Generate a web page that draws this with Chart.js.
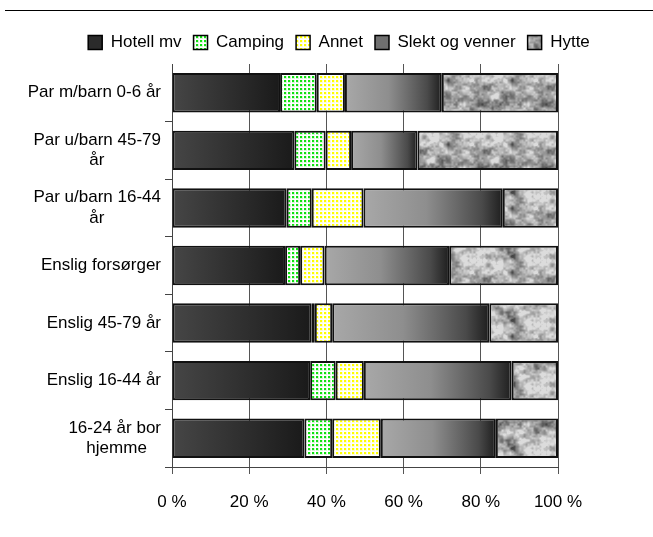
<!DOCTYPE html>
<html>
<head>
<meta charset="utf-8">
<script src="https://cdn.jsdelivr.net/npm/chart.js@4.4.1/dist/chart.umd.min.js"></script>
<style>
  html, body { margin: 0; background: #fff; }
  #wrap { position: relative; width: 653px; height: 537px; }
  #rule { position: absolute; left: 5px; right: 0; top: 10px; border-top: 1px solid #000; }
  #myChart { position: absolute; left: 0; top: 0; }
</style>
</head>
<body>
<div id="wrap">
  <div id="rule"></div>
  <canvas id="myChart" width="653" height="537"></canvas>
</div>
<script>
// categories (top to bottom)
const categories = [
  'Par m/barn 0-6 år',
  ['Par u/barn 45-79', 'år'],
  ['Par u/barn 16-44', 'år'],
  'Enslig forsørger',
  'Enslig 45-79 år',
  'Enslig 16-44 år',
  ['16-24 år bor', 'hjemme']
];
const seriesNames = ['Hotell mv', 'Camping', 'Annet', 'Slekt og venner', 'Hytte'];

// share in percent
const hotell  = [28.0, 31.7, 29.7, 29.3, 36.2, 35.8, 34.3];
const camping = [ 9.5,  8.1,  6.5,  3.9,  0.8,  6.6,  7.2];
const annet   = [ 7.3,  6.6, 13.4,  6.3,  4.5,  7.3, 12.6];
const slekt   = [25.1, 17.2, 36.1, 32.3, 40.7, 38.3, 29.8];
const hytte   = [30.1, 36.4, 14.3, 28.2, 17.8, 12.0, 16.1];
const series = [hotell, camping, annet, slekt, hytte];

const xTicks = [0, 20, 40, 60, 80, 100];

const FONT = '"Liberation Sans", Arial, sans-serif';
Chart.defaults.font.family = FONT;
Chart.defaults.font.size = 17;
Chart.defaults.color = '#000';

// --- fills -------------------------------------------------------------
function dotPattern(dot, light) {
  const c = document.createElement('canvas');
  c.width = 4; c.height = 4;
  const g = c.getContext('2d');
  g.fillStyle = light;
  g.fillRect(0, 0, 4, 4);
  g.fillStyle = '#fff';
  g.fillRect(3, 0, 1, 4); g.fillRect(0, 3, 4, 1);
  g.fillStyle = dot;
  g.fillRect(0, 0, 2, 2);
  return g.createPattern(c, 'repeat');
}

function granitePattern() {
  const N = 64;
  const c = document.createElement('canvas');
  c.width = N; c.height = N;
  const g = c.getContext('2d');
  const img = g.createImageData(N, N);
  const h = (i, j) => { const s = Math.sin(i * 127.1 + j * 311.7) * 43758.5453; return s - Math.floor(s); };
  const noise = (x, y, cell) => {
    const P = N / cell;
    const gx = x / cell, gy = y / cell;
    const i = Math.floor(gx), j = Math.floor(gy);
    const fx = gx - i, fy = gy - j;
    const sx = fx * fx * (3 - 2 * fx), sy = fy * fy * (3 - 2 * fy);
    const a = h(i % P, j % P), b = h((i + 1) % P, j % P);
    const cc = h(i % P, (j + 1) % P), d = h((i + 1) % P, (j + 1) % P);
    return a + (b - a) * sx + (cc - a) * sy + (a - b - cc + d) * sx * sy;
  };
  for (let y = 0; y < N; y++) {
    for (let x = 0; x < N; x++) {
      const v = 0.5 * noise(x, y, 8) + 0.3 * noise(x, y, 4) + 0.2 * noise(x, y, 2);
      const t = Math.min(1, Math.max(0, (v - 0.1) / 0.6));
      const gray = Math.round(70 + 150 * t);
      const k = (y * N + x) * 4;
      img.data[k] = gray; img.data[k + 1] = gray; img.data[k + 2] = gray; img.data[k + 3] = 255;
    }
  }
  g.putImageData(img, 0, 0);
  return g.createPattern(c, 'repeat');
}

function gradFill(stops, fallback) {
  return c => {
    const chart = c.chart, x = chart.scales.x;
    if (c.type !== 'data' || !chart.chartArea || !x) return fallback;
    const i = c.dataIndex, d = c.datasetIndex;
    let start = 0;
    for (let k = 0; k < d; k++) start += series[k][i];
    const x0 = x.getPixelForValue(start), x1 = x.getPixelForValue(start + series[d][i]);
    if (!isFinite(x0) || !isFinite(x1) || x1 <= x0) return fallback;
    const g = chart.ctx.createLinearGradient(x0, 0, x1, 0);
    stops.forEach(s => g.addColorStop(s[0], s[1]));
    return g;
  };
}

const campingFill = dotPattern('#10e010', '#d4f8d4');
const annetFill = dotPattern('#ffff00', '#ffffcc');
const hytteFill = granitePattern();
const fills = [
  gradFill([[0, '#464646'], [1, '#1a1a1a']], '#2b2b2b'),
  campingFill,
  annetFill,
  gradFill([[0, '#a8a8a8'], [0.45, '#8e8e8e'], [0.85, '#4a4a4a'], [1, '#1e1e1e']], '#707070'),
  hytteFill
];
const legendFills = ['#2b2b2b', campingFill, annetFill, '#707070', hytteFill];

// centre the lines of a wrapped label, labels stay right aligned
const measureCtx = document.createElement('canvas').getContext('2d');
measureCtx.font = '17px ' + FONT;
function centreLines(lines) {
  const w = lines.map(l => measureCtx.measureText(l).width);
  const max = Math.max(...w);
  const sp = measureCtx.measureText('\u00a0').width;
  return lines.map((l, i) => l + '\u00a0'.repeat(Math.round((max - w[i]) / 2 / sp)));
}

// legend: shorter box, and shifted right over the middle of the picture
const legendBox = {
  id: 'legendBox',
  beforeLayout(chart) {
    const lg = chart.legend;
    if (lg && !lg.fitWrapped) {
      const fit = lg.fit;
      lg.fit = function () { fit.call(this); this.height = 42; };
      lg.fitWrapped = true;
    }
  },
  afterLayout(chart) {
    const lg = chart.legend;
    lg.left += 60;
    lg.right += 60;
  }
};

const ctx = document.getElementById('myChart').getContext('2d');
new Chart(ctx, {
  type: 'bar',
  data: {
    labels: categories,
    datasets: series.map((vals, i) => ({
      label: seriesNames[i],
      data: vals,
      backgroundColor: fills[i],
      borderColor: '#111',
      borderWidth: 2,
      borderSkipped: false,
      barPercentage: 0.685,
      categoryPercentage: 1
    }))
  },
  options: {
    indexAxis: 'y',
    responsive: false,
    animation: false,
    layout: { padding: { left: 0, right: 95, top: 22, bottom: 0 } },
    plugins: {
      legend: {
        position: 'top',
        labels: {
          boxWidth: 14,
          boxHeight: 14,
          padding: 12,
          color: '#000',
          font: { size: 17 },
          generateLabels: () => seriesNames.map((n, i) => ({
            text: n,
            fillStyle: legendFills[i],
            strokeStyle: '#000',
            lineWidth: 1.5,
            hidden: false,
            datasetIndex: i
          }))
        }
      },
      tooltip: { enabled: false }
    },
    scales: {
      x: {
        stacked: true,
        min: 0,
        max: 100,
        afterBuildTicks: s => { s.ticks = xTicks.map(v => ({ value: v })); },
        ticks: { callback: v => v + ' %', padding: 18, font: { size: 17 } },
        grid: { color: '#555', tickColor: '#555', tickLength: 7 },
        border: { color: '#444' },
        afterFit: s => { s.height = 70; }
      },
      y: {
        stacked: true,
        ticks: {
          padding: 4,
          font: { size: 17 },
          callback: function (v) {
            const l = this.getLabelForValue(v);
            return Array.isArray(l) ? centreLines(l) : l;
          }
        },
        grid: {
          drawOnChartArea: false,
          color: c => (c.index === 0 ? 'rgba(0,0,0,0)' : '#444'),
          tickLength: 7
        },
        border: { color: '#444' },
        afterFit: s => { s.width = 172; }
      }
    }
  },
  plugins: [legendBox]
});
</script>
</body>
</html>
